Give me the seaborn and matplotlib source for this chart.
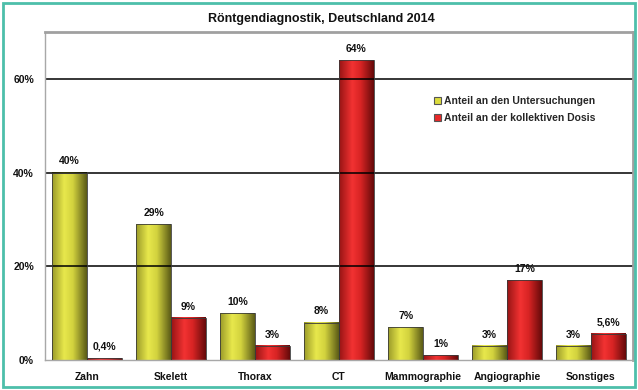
import numpy as np
import pandas as pd
import matplotlib
matplotlib.use("Agg")
import matplotlib.pyplot as plt
from matplotlib.patches import Rectangle, Patch
from matplotlib.colors import LinearSegmentedColormap
import seaborn as sns

# Röntgendiagnostik in Deutschland 2014: Anteile je Untersuchungsart
categories = ["Zahn", "Skelett", "Thorax", "CT", "Mammographie", "Angiographie", "Sonstiges"]
untersuchungen = [40, 29, 10, 8, 7, 3, 3]
dosis = [0.4, 9, 3, 64, 1, 17, 5.6]
series = ["Anteil an den Untersuchungen", "Anteil an der kollektiven Dosis"]
y_ticks = [0, 20, 40, 60]

df = pd.DataFrame({
    "Kategorie": categories * 2,
    "Serie": [series[0]] * len(categories) + [series[1]] * len(categories),
    "Wert": untersuchungen + dosis,
})

sns.set_theme(style="white")
plt.rcParams["font.family"] = ["Liberation Sans", "DejaVu Sans"]
plt.rcParams["font.weight"] = "bold"

base_colors = {series[0]: "#dcdc3c", series[1]: "#e82828"}
# horizontal shading profiles: dark edge -> bright -> dark edge
shades = {
    series[0]: LinearSegmentedColormap.from_list(
        "gelb", [(0.0, "#9a9a28"), (0.35, "#e8e84c"), (0.6, "#d2d23e"), (1.0, "#5a5a16")]),
    series[1]: LinearSegmentedColormap.from_list(
        "rot", [(0.0, "#961414"), (0.38, "#f23232"), (0.62, "#d82424"), (1.0, "#640a0a")]),
}

fig = plt.figure(figsize=(6.38, 3.90), dpi=100)
ax = fig.add_axes([45 / 638, 30 / 390, 588 / 638, 328 / 390])

sns.barplot(data=df, x="Kategorie", y="Wert", hue="Serie", order=categories,
            hue_order=series, palette=base_colors, width=0.83, ax=ax,
            edgecolor="#3a3a3a", linewidth=0.6, legend=False, saturation=1)

grad = np.linspace(0, 1, 256).reshape(1, -1)
for container, name in zip(ax.containers, series):
    for bar, val in zip(container.patches, container.datavalues):
        x0, w, h = bar.get_x(), bar.get_width(), bar.get_height()
        ax.imshow(grad, cmap=shades[name], extent=(x0, x0 + w, 0, h),
                  aspect="auto", zorder=bar.get_zorder() - 0.05, interpolation="bilinear")
        bar.set_facecolor("none")
        bar.set_zorder(3)
        txt = (f"{val:g}".replace(".", ",")) + "%"
        ax.annotate(txt, (x0 + w / 2, h), xytext=(0, 4.5), textcoords="offset points",
                    ha="center", va="bottom", fontsize=7.5, fontweight="bold", color="#111111")

ax.set_ylim(0, 70)
ax.set_xlim(-0.5, len(categories) - 0.5)

# gridlines
for yv in y_ticks[1:]:
    ax.axhline(yv, color="black", lw=1.1, zorder=1)

ax.set_yticks(y_ticks)
ax.set_yticklabels([f"{v}%" for v in y_ticks], fontsize=7.5, fontweight="bold")
ax.set_xticks(range(len(categories)))
ax.set_xticklabels(categories, fontsize=7.5, fontweight="bold")
ax.set_xticks(np.arange(-0.5, len(categories), 1), minor=True)
ax.tick_params(axis="x", which="major", length=0, pad=9, labelcolor="#111111")
ax.tick_params(axis="x", which="minor", length=3, width=0.8, color="#9a9a9a", direction="out")
ax.tick_params(axis="y", length=3, width=0.8, color="#9a9a9a", pad=5, labelcolor="#111111")
ax.set_xlabel("")
ax.set_ylabel("")

for side in ["left", "bottom"]:
    ax.spines[side].set_color("#a8a8a8")
    ax.spines[side].set_linewidth(1.0)
for side in ["top", "right"]:
    ax.spines[side].set_color("#a0a0a0")
    ax.spines[side].set_linewidth(2.0)

handles = [Patch(facecolor=base_colors[s], edgecolor="#555555", linewidth=0.8) for s in series]
ax.legend(handles, series, loc="upper left", bbox_to_anchor=(0.645, 0.833), frameon=False,
          handlelength=0.7, handleheight=0.7, handletextpad=0.25,
          labelspacing=0.65, prop={"weight": "bold", "size": 7.5})

fig.suptitle("Röntgendiagnostik, Deutschland 2014", x=321 / 638, y=1 - 19 / 390, va="center",
             fontsize=9, fontweight="bold", color="#111111")

# teal frame around the whole graphic
fig.patches.append(Rectangle((3 / 638, 3 / 390), 632 / 638, 384 / 390, transform=fig.transFigure,
                             fill=False, edgecolor="#4dbfaa", linewidth=2))

fig.savefig("out.png", dpi=100)
